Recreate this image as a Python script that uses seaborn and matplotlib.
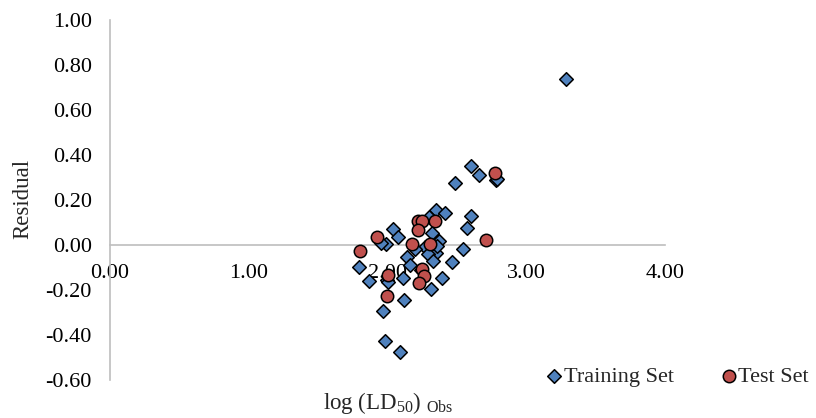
import pandas as pd
import matplotlib.pyplot as plt
import seaborn as sns

# Residuals
train_x = [3.29, 2.60, 2.66, 2.485, 2.785, 2.346, 2.418, 2.605, 2.576, 2.038,
           2.074, 2.318, 2.373, 1.99, 1.95, 2.27, 2.346, 2.29, 2.547, 2.466,
           2.33, 2.138, 2.162, 1.792, 2.115, 1.864, 1.995, 2.007, 2.313, 2.39,
           2.122, 1.971, 1.983, 2.09, 2.30, 2.195, 2.24, 2.36, 2.79]
train_y = [0.737, 0.353, 0.309, 0.275, 0.287, 0.155, 0.143, 0.128, 0.074, 0.069,
           0.034, 0.054, 0.019, 0.003, 0.010, -0.007, -0.034, -0.040, -0.019, -0.074,
           -0.071, -0.054, -0.088, -0.099, -0.147, -0.162, -0.157, -0.166, -0.196, -0.147,
           -0.243, -0.294, -0.427, -0.475, 0.125, -0.020, -0.110, -0.005, 0.295]

test_x = [2.777, 1.80, 1.923, 2.217, 2.251, 2.342, 2.217, 2.179, 2.306, 2.707,
          2.007, 2.251, 2.265, 2.227, 1.995]
test_y = [0.319, -0.025, 0.034, 0.107, 0.107, 0.107, 0.066, 0.003, 0.004, 0.022,
          -0.132, -0.107, -0.137, -0.169, -0.228]

train = pd.DataFrame({'obs': train_x, 'res': train_y})
test = pd.DataFrame({'obs': test_x, 'res': test_y})

sns.set_style("white")
plt.rcParams['font.family'] = ['Liberation Serif', 'DejaVu Serif']
plt.rcParams['mathtext.fontset'] = 'custom'
plt.rcParams['mathtext.rm'] = 'Liberation Serif'
plt.rcParams['mathtext.it'] = 'Liberation Serif:italic'

fig = plt.figure(figsize=(8.16, 4.18), dpi=100)
ax = fig.add_axes([110 / 816, 38 / 418, 555 / 816, 360 / 418])

sns.scatterplot(data=train, x='obs', y='res', marker='D', s=48, color='#4F81BD',
                edgecolor='black', linewidth=1.1, label='Training Set', ax=ax, zorder=3)
sns.scatterplot(data=test, x='obs', y='res', marker='o', s=80, color='#C0504D',
                edgecolor='black', linewidth=1.1, label='Test Set', ax=ax, zorder=4)

ax.set_xlim(0, 4)
ax.set_ylim(-0.6, 1.0)
ax.set_xticks([0, 1, 2, 3, 4])
ax.set_yticks([-0.6, -0.4, -0.2, 0, 0.2, 0.4, 0.6, 0.8, 1.0])
ax.xaxis.set_major_formatter(plt.FormatStrFormatter('%.2f'))
ax.yaxis.set_major_formatter(plt.FormatStrFormatter('%.2f'))
ax.tick_params(length=0, labelsize=16, colors='black')
ax.tick_params(axis='x', pad=14)
ax.tick_params(axis='y', pad=13)

for side in ['top', 'right']:
    ax.spines[side].set_visible(False)
ax.spines['bottom'].set_position(('data', 0))
ax.spines['left'].set_color('#BEBEBE')
ax.spines['bottom'].set_color('#BEBEBE')
ax.spines['left'].set_linewidth(1.2)
ax.spines['bottom'].set_linewidth(1.2)

ax.set_xlabel('')
ax.set_ylabel('')
fig.text(23 / 816, 1 - 199 / 418, 'Residual', fontsize=16.5, rotation=90,
         ha='center', va='center')
fig.text(388 / 816, 1 - 403 / 418, r'log (LD$_{\mathrm{50}}$) $_{\mathrm{Obs}}$', fontsize=16.5,
         ha='center', va='center')

ax.get_legend().remove()
handles, labels = ax.get_legend_handles_labels()
fig.legend(handles, labels, loc='center left', bbox_to_anchor=(532 / 816, 1 - 377 / 418),
           ncol=2, frameon=False, fontsize=16, handletextpad=-0.18, columnspacing=1.88,
           handlelength=1.2, borderaxespad=0)

fig.savefig('out.png', dpi=100)
